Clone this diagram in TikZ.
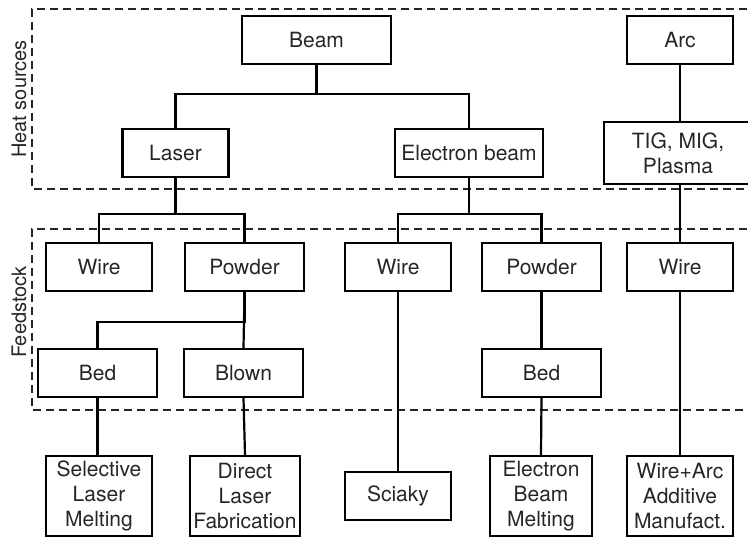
\documentclass[tikz,border=0pt]{standalone}
\usepackage{fontspec}
\setmainfont{TeX Gyre Heros}
\usetikzlibrary{positioning}

\begin{document}
\begin{tikzpicture}[x=1pt,y=-1pt,line cap=butt,line join=miter,
		box/.style={draw,line width=2.2pt,inner sep=0pt,align=center,font=\fontsize{21}{25}\selectfont,text=black!85},
		onebox/.style={box,minimum width=106pt,minimum height=48pt},
		widebox/.style={box,minimum width=119pt,minimum height=48pt},
		tallbox/.style={box,minimum height=80pt},
		link/.style={line width=2.2pt},
		zone/.style={line width=2.2pt,dash pattern=on 8pt off 5pt,black!85},
		zonelabel/.style={rotate=90,font=\fontsize{20}{24}\selectfont,text=black!85}]
		\useasboundingbox (0,0) rectangle (748,538);
		% zones
		\draw [zone] (760,9) -- (32,9) -- (32,189) -- (760,189);
		\draw [zone] (760,229) -- (32,229) -- (32,410) -- (760,410);
		\node[zonelabel] (heat) at (19,99) {Heat sources};
		\node[zonelabel] (feed) at (19,312) {Feedstock};
		% heat sources
		\node[box,minimum width=149pt,minimum height=48pt] (beam) at (316.5,40) {Beam};
		\node[onebox] (arc) at (680,40) {Arc};
		\node[onebox] (laser) at (175.5,153) {Laser};
		\node[box,minimum width=148pt,minimum height=48pt] (ebeam) at (469,153) {Electron beam};
		\node[box,minimum width=148pt,minimum height=62pt] (tig) at (678,153) {TIG, MIG,\\Plasma};
		% feedstock
		\node[onebox] (wireA) at (99,267) {Wire};
		\node[widebox] (powderA) at (244.5,267) {Powder};
		\node[onebox] (wireB) at (398,267) {Wire};
		\node[widebox] (powderB) at (541.5,267) {Powder};
		\node[onebox] (wireC) at (680,267) {Wire};
		\node[widebox] (bedA) at (97.5,373) {Bed};
		\node[widebox] (blown) at (243.5,373) {Blown};
		\node[widebox] (bedB) at (541.5,373) {Bed};
		% processes
		\node[tallbox,minimum width=106pt] (slm) at (99,496) {Selective\\Laser\\Melting};
		\node[tallbox,minimum width=110pt] (dlf) at (245,496) {Direct\\Laser\\Fabrication};
		\node[onebox] (sciaky) at (398,496) {Sciaky};
		\node[tallbox,minimum width=102pt] (ebm) at (541,496) {Electron\\Beam\\Melting};
		\node[tallbox,minimum width=106pt] (waam) at (680,496) {Wire+Arc\\Additive\\Manufact.};
		% links
		\draw [link] (beam.south) -- ++(0,29) -| (laser.north);
		\draw [link] (beam.south) -- ++(0,29) -| (ebeam.north);
		\draw [link] (laser.south) -- ++(0,36) -| (wireA.north);
		\draw [link] (laser.south) -- ++(0,36) -| (powderA.north);
		\draw [link] (ebeam.south) -- ++(0,36) -| (wireB.north);
		\draw [link] (ebeam.south) -- ++(0,36) -| (powderB.north);
		\draw [link] (powderA.south) -- ++(0,30) -| (bedA.north);
		\draw [link] (powderA.south) -- (blown.north);
		\draw [link] (powderB.south) -- (bedB.north);
		\draw [link] (arc.south) -- (arc.south |- tig.north);
		\draw [link] (arc.south |- tig.south) -- (wireC.north);
		\draw [link] (bedA.south) -- (bedA.south |- slm.north);
		\draw [link] (blown.south) -- (dlf.north);
		\draw [link] (wireB.south) -- (sciaky.north);
		\draw [link] (bedB.south) -- (ebm.north);
		\draw [link] (wireC.south) -- (waam.north);
\end{tikzpicture}
\end{document}
